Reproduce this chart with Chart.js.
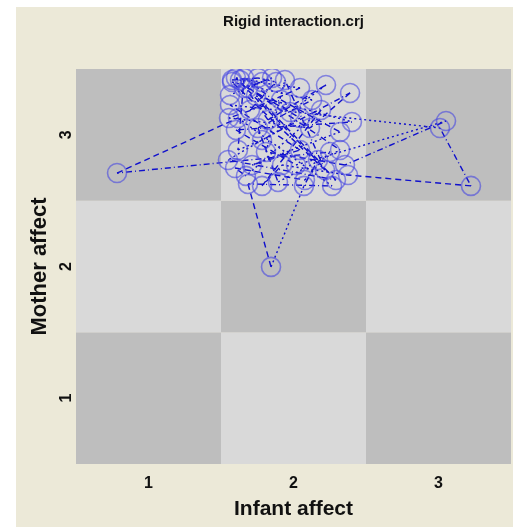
<!DOCTYPE html>
<html lang="en">
<head>
<meta charset="UTF-8">
<title>Rigid interaction.crj</title>
<script src="https://cdn.jsdelivr.net/npm/chart.js"></script>
<style>
    html, body { margin: 0; padding: 0; background: #ffffff; }
    #wrap { position: absolute; left: 16px; top: 7px; width: 497px; height: 520px; background: #ece9d8; }
</style>
</head>
<body>
<div id="wrap"><canvas id="myChart"></canvas></div>
<script>
// chart data
const titleText = 'Rigid interaction.crj';
const xTitle = 'Infant affect';
const yTitle = 'Mother affect';
const xTickLabels = ['1', '2', '3'];
const yTickLabels = ['1', '2', '3'];

const infantAffect = [
    1.576, 1.755, 1.879, 1.700, 2.045, 1.631, 1.824, 2.224, 1.976, 1.659,
    1.617, 1.783, 2.390, 2.114, 1.555, 1.914, 2.321, 1.714, 2.045, 1.562,
    3.010, 3.224, 2.376, 1.921, 1.783, 2.190, 1.672, 1.597, 2.079, 2.252,
    0.783, 1.617, 2.266, 1.686, 1.845, 2.072, 2.169, 1.741, 2.403, 1.603,
    2.017, 3.052, 2.355, 1.810, 1.941, 2.217, 1.576, 2.128, 1.755, 1.893,
    2.321, 1.686, 2.045, 1.548, 2.293, 1.603, 1.783, 1.659, 1.852, 1.562
];
const motherAffect = [
    3.416, 3.432, 3.401, 3.189, 3.356, 3.416, 3.113, 3.379, 3.173, 3.432,
    2.885, 2.961, 3.318, 3.052, 3.128, 3.265, 3.022, 2.771, 2.885, 3.227,
    3.052, 2.612, 2.695, 2.771, 2.612, 3.189, 2.688, 2.748, 2.657, 2.870,
    2.710, 3.128, 2.612, 2.627, 1.997, 2.612, 2.809, 3.295, 3.098, 3.037,
    2.771, 3.105, 2.771, 2.870, 3.416, 2.733, 3.401, 3.265, 3.052, 2.642,
    2.885, 3.356, 3.128, 2.809, 2.657, 3.432, 3.401, 3.356, 3.432, 3.303
];

const points = infantAffect.map((v, i) => ({ x: v, y: motherAffect[i] }));
const dashPatterns = [[6, 4], [2, 3], [1, 3, 6, 3]];

// grey checkerboard behind the points
const checkerboard = {
    id: 'checkerboard',
    beforeDatasetsDraw(chart) {
        const { ctx, scales: { x, y } } = chart;
        ctx.save();
        for (let i = 1; i <= xTickLabels.length; i++) {
            for (let j = 1; j <= yTickLabels.length; j++) {
                const left = x.getPixelForValue(i - 0.5);
                const right = x.getPixelForValue(i + 0.5);
                const top = y.getPixelForValue(j + 0.5);
                const bottom = y.getPixelForValue(j - 0.5);
                ctx.fillStyle = (i + j) % 2 === 0 ? '#bebebe' : '#d9d9d9';
                ctx.fillRect(left, top, right - left, bottom - top);
            }
        }
        ctx.restore();
    }
};

// title centred over the plot area
const plotTitle = {
    id: 'plotTitle',
    afterDraw(chart) {
        const { ctx, chartArea } = chart;
        ctx.save();
        ctx.font = 'bold 15px "Liberation Sans", Arial, sans-serif';
        ctx.fillStyle = '#111111';
        ctx.textAlign = 'center';
        ctx.textBaseline = 'middle';
        ctx.fillText(titleText, (chartArea.left + chartArea.right) / 2, 15);
        ctx.restore();
    }
};

const fixedTicks = scale => {
    scale.ticks = [{ value: 1 }, { value: 2 }, { value: 3 }];
};

const ctx = document.getElementById('myChart').getContext('2d');
const myChart = new Chart(ctx, {
    type: 'scatter',
    data: {
        datasets: [{
            data: points,
            showLine: true,
            borderColor: '#1010cc',
            borderWidth: 1.4,
            segment: {
                borderDash: c => dashPatterns[c.p0DataIndex % dashPatterns.length]
            },
            pointRadius: 9.5,
            pointBorderWidth: 1.6,
            pointBorderColor: 'rgba(70, 70, 225, 0.6)',
            pointBackgroundColor: 'rgba(0, 0, 0, 0)',
            pointHoverRadius: 9.5
        }]
    },
    options: {
        responsive: true,
        maintainAspectRatio: false,
        animation: false,
        layout: { autoPadding: false, padding: { top: 62, right: 2, left: 0, bottom: 0 } },
        plugins: {
            legend: { display: false },
            tooltip: { enabled: false },
            title: { display: false }
        },
        scales: {
            x: {
                type: 'linear',
                min: 0.5,
                max: 3.5,
                afterBuildTicks: fixedTicks,
                afterFit: s => { s.height = 63; s.paddingLeft = 0; s.paddingRight = 0; },
                grid: { display: false, drawTicks: false },
                border: { display: false },
                ticks: {
                    padding: 10,
                    color: '#111111',
                    font: { family: '"Liberation Sans", Arial, sans-serif', size: 16, weight: 'bold' },
                    callback: v => xTickLabels[v - 1]
                },
                title: {
                    display: true,
                    text: xTitle,
                    color: '#111111',
                    font: { family: '"Liberation Sans", Arial, sans-serif', size: 21, weight: 'bold' },
                    padding: { top: 0, bottom: 5 }
                }
            },
            y: {
                type: 'linear',
                min: 0.5,
                max: 3.5,
                afterBuildTicks: fixedTicks,
                afterFit: s => { s.width = 60; s.paddingTop = 0; s.paddingBottom = 0; },
                grid: { display: false, drawTicks: false },
                border: { display: false },
                ticks: {
                    padding: 5,
                    minRotation: 90,
                    maxRotation: 90,
                    crossAlign: 'center',
                    color: '#111111',
                    font: { family: '"Liberation Sans", Arial, sans-serif', size: 16, weight: 'bold' },
                    callback: v => yTickLabels[v - 1]
                },
                title: {
                    display: true,
                    text: yTitle,
                    color: '#111111',
                    font: { family: '"Liberation Sans", Arial, sans-serif', size: 22, weight: 'bold' },
                    padding: { top: 11, bottom: 0 }
                }
            }
        }
    },
    plugins: [checkerboard, plotTitle]
});
</script>
</body>
</html>
